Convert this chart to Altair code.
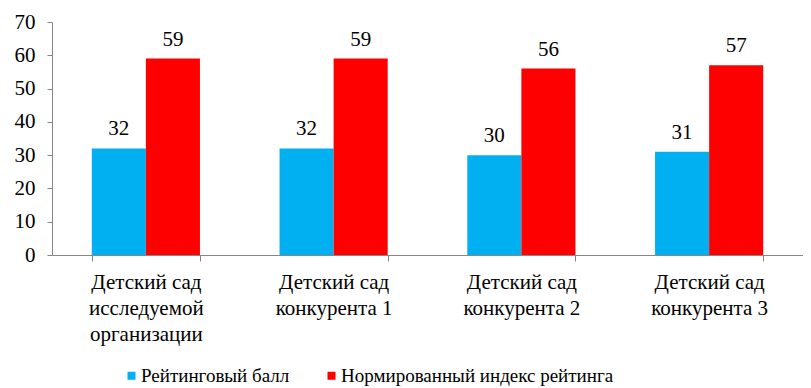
import altair as alt
import pandas as pd

categories = [
    "Детский сад\nисследуемой\nорганизации",
    "Детский сад\nконкурента 1",
    "Детский сад\nконкурента 2",
    "Детский сад\nконкурента 3",
]
series = ["Рейтинговый балл", "Нормированный индекс рейтинга"]
rating_score = [32, 32, 30, 31]
normalized_index = [59, 59, 56, 57]
colors = ["#00B0F0", "#FF0000"]

rows = []
for i, c in enumerate(categories):
    rows.append({"cat": c, "series": series[0], "value": rating_score[i]})
    rows.append({"cat": c, "series": series[1], "value": normalized_index[i]})
df = pd.DataFrame(rows)

FONT = "Liberation Serif"
FS = 21

base = alt.Chart(df).encode(
    x=alt.X(
        "cat:N",
        sort=categories,
        scale=alt.Scale(paddingInner=0.424, paddingOuter=0.212),
        axis=alt.Axis(
            title=None,
            labelAngle=0,
            labelExpr="split(datum.label, '\\n')",
            labelFont=FONT,
            labelFontSize=FS,
            labelColor="black",
            labelLineHeight=26,
            labelPadding=10,
            domainColor="#868686",
            tickColor="#868686",
            tickSize=6,
            tickBand="extent",
            labelBaseline="top",
        ),
    ),
    xOffset=alt.XOffset("series:N", sort=series, scale=alt.Scale(paddingInner=0, paddingOuter=0)),
    y=alt.Y(
        "value:Q",
        scale=alt.Scale(domain=[0, 70], nice=False),
        axis=alt.Axis(
            title=None,
            values=[0, 10, 20, 30, 40, 50, 60, 70],
            grid=False,
            labelFont=FONT,
            labelFontSize=FS,
            labelColor="black",
            labelPadding=12,
            domainColor="#868686",
            tickColor="#868686",
            tickSize=5,
        ),
    ),
)

bars = base.mark_bar().encode(
    color=alt.Color(
        "series:N",
        sort=series,
        scale=alt.Scale(domain=series, range=colors),
        legend=alt.Legend(
            title=None,
            orient="none",
            direction="horizontal",
            legendX=70,
            legendY=344,
            symbolType="square",
            symbolSize=64,
            symbolStrokeWidth=0,
            labelFont=FONT,
            labelFontSize=19,
            labelColor="black",
            labelOffset=0,
            labelLimit=500,
            columnPadding=32,
        ),
    )
)

labels = base.mark_text(
    font=FONT, fontSize=FS, color="black", baseline="alphabetic", dy=-13
).encode(text="value:Q")

chart = (
    (bars + labels)
    .properties(
        width=751,
        height=233,
        autosize=alt.AutoSizeParams(type="none"),
        padding={"left": 44, "top": 14, "right": 0, "bottom": 133},
    )
    .configure_view(stroke=None)
)

chart.save("out.html", embed_options={"renderer": "svg", "actions": False})
